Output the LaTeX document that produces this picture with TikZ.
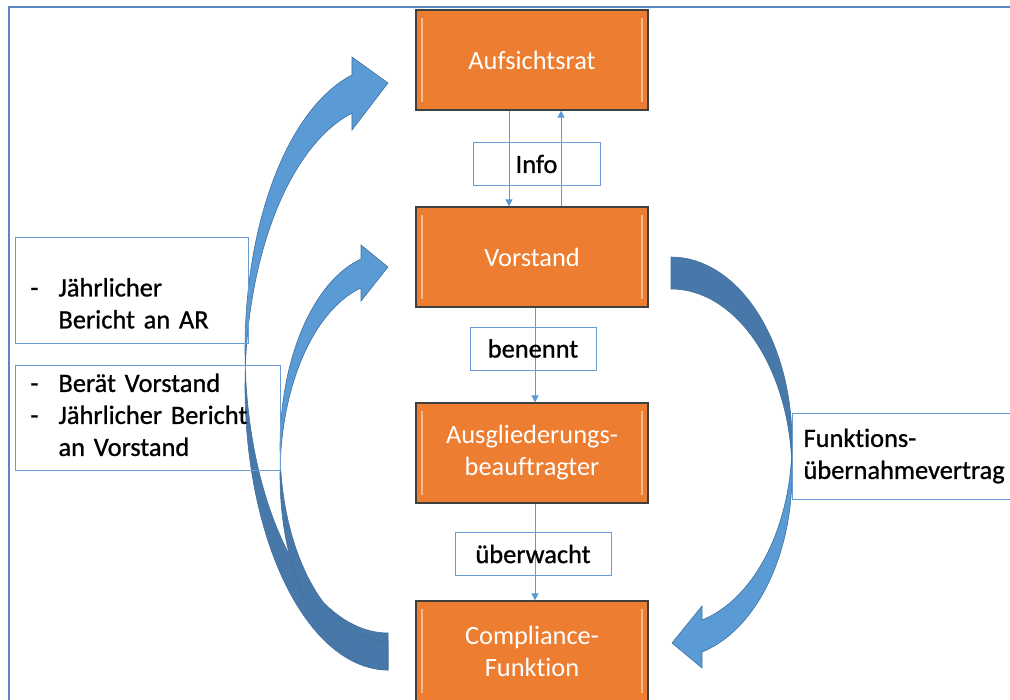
\documentclass[tikz,border=0pt]{standalone}
\usepackage{fontspec}
\setmainfont{Carlito}[Ligatures=NoCommon]
\newfontfamily\heavy{Carlito}[Ligatures=NoCommon, FakeBold=0.9]
\usetikzlibrary{arrows.meta,calc}

\definecolor{boxorange}{HTML}{ED7D31}
\definecolor{boxedge}{HTML}{3F3F3F}
\definecolor{bevel}{HTML}{F6B988}
\definecolor{labelblue}{HTML}{6A9AD2}
\definecolor{linkblue}{HTML}{5B9BD5}
\definecolor{bandlight}{HTML}{5B9BD5}
\definecolor{banddark}{HTML}{4878A9}
\definecolor{bandedge}{HTML}{41719C}
\definecolor{frameblue}{HTML}{5A86C4}

\newcommand{\lab}{\fontsize{13.2}{16}\selectfont}

\tikzset{
	organ/.style={draw=boxedge, line width=0.6pt, fill=boxorange, text=white, font=\lab,
		align=center, minimum width=116pt, minimum height=50pt, inner sep=0pt,
		path picture={
			\draw[bevel, line width=1.2pt]
			([xshift=3pt,yshift=-4pt]path picture bounding box.north west) -- ([xshift=3pt,yshift=4pt]path picture bounding box.south west)
			([xshift=-3pt,yshift=-4pt]path picture bounding box.north east) -- ([xshift=-3pt,yshift=4pt]path picture bounding box.south east);
		}},
	tag/.style={draw=labelblue, line width=0.5pt, font=\lab\heavy, inner sep=0pt, minimum height=21.5pt},
	note/.style={draw=labelblue, line width=0.5pt, font=\lab\heavy, align=left, anchor=west,
		inner xsep=7.5pt, inner ysep=0pt},
	link/.style={draw=linkblue, line width=0.5pt, -{Triangle[length=3.5pt,width=3.5pt]}},
	band/.style={draw=bandedge, line width=0.3pt},
}

\begin{document}
\begin{tikzpicture}[
	x=0.5pt, y=-0.5pt
	]
	\useasboundingbox (0,0) rectangle (1010,700);
	\clip (0,0) rectangle (1010,700);

	\draw[frameblue, line width=1pt] (9,700) -- (9,7) -- (1010,7);

	% curved bands
	\filldraw[fill=banddark, band] plot[domain=183.85:90, samples=40] ({388+143*cos(\x)},{387+283*sin(\x)})
		-- (388,633) -- plot[domain=90:176.24, samples=40] ({388+143*cos(\x)},{349.4+283.6*sin(\x)}) -- cycle;
	\filldraw[fill=bandlight, band] plot[domain=255.4:176.24, samples=40] ({388+143*cos(\x)},{349.4+283.6*sin(\x)})
		-- plot[domain=183.85:255.4, samples=40] ({388+143*cos(\x)},{387+283*sin(\x)})
		-- (352,130) -- (388,83) -- (352,57) -- cycle;

	\filldraw[fill=banddark, band] plot[domain=184.28:90, samples=40] ({388+108*cos(\x)},{475.9+194.1*sin(\x)})
		-- (388,641) -- plot[domain=90:175.72, samples=40] ({388+108*cos(\x)},{446.9+194.1*sin(\x)}) -- cycle;
	\filldraw[fill=bandlight, band] plot[domain=255.52:175.72, samples=40] ({388+108*cos(\x)},{446.9+194.1*sin(\x)})
		-- plot[domain=184.28:255.52, samples=40] ({388+108*cos(\x)},{475.9+194.1*sin(\x)})
		-- (361,301) -- (388,267) -- (361,245) -- cycle;

	\filldraw[fill=banddark, band] plot[domain=-90:4.97, samples=40] ({671+121*cos(\x)},{441.6+184.6*sin(\x)})
		-- plot[domain=-4.97:-90, samples=40] ({671+121*cos(\x)},{473.6+184.6*sin(\x)}) -- cycle;
	\filldraw[fill=bandlight, band] plot[domain=-4.97:75.16, samples=40] ({671+121*cos(\x)},{473.6+184.6*sin(\x)})
		-- (702,668) -- (672,643) -- (702,606)
		-- plot[domain=75.16:4.97, samples=40] ({671+121*cos(\x)},{441.6+184.6*sin(\x)}) -- cycle;

	\node[organ] (ar) at (532,60) {Aufsichtsrat};
	\node[organ] (vst) at (532,257) {Vorstand};
	\node[organ] (agb) at (532,453) {Ausgliederungs-\\beauftragter};
	\node[organ] (cf) at (532,651) {Compliance-\\Funktion};

	\draw[link] ($(ar.south)+(-23,0)$) -- ($(vst.north)+(-23,0)$);
	\draw[link] ($(vst.north)+(29,0)$) -- ($(ar.south)+(29,0)$);
	\draw[link] ($(vst.south)+(3,0)$) -- ($(agb.north)+(3,0)$);
	\draw[link] ($(agb.south)+(3,0)$) -- ($(cf.north)+(3,0)$);

	\node[tag, minimum width=63.5pt] (info) at (536.5,164) {Info};
	\node[tag, minimum width=63pt] (benennt) at (533,348.5) {benennt};
	\node[tag, minimum width=78pt] (ueberwacht) at (533,554) {überwacht};

	\node[note, text width=101.5pt, minimum height=53pt] (berAR) at (15,290)
		{\begin{tabular}{@{}p{14pt}@{}l@{}} & \\ - & Jährlicher\\ & Bericht an AR\end{tabular}};
	\node[note, text width=117.5pt, minimum height=52.5pt] (berVst) at (15,417.5)
		{\begin{tabular}{@{}p{14pt}@{}l@{}} - & Berät Vorstand\\ - & Jährlicher Bericht\\ & an Vorstand\end{tabular}};
	\node[note, inner xsep=5.5pt, text width=115pt, minimum height=43pt] (fuev) at (792,456)
		{Funktions-\\übernahmevertrag};
\end{tikzpicture}
\end{document}
